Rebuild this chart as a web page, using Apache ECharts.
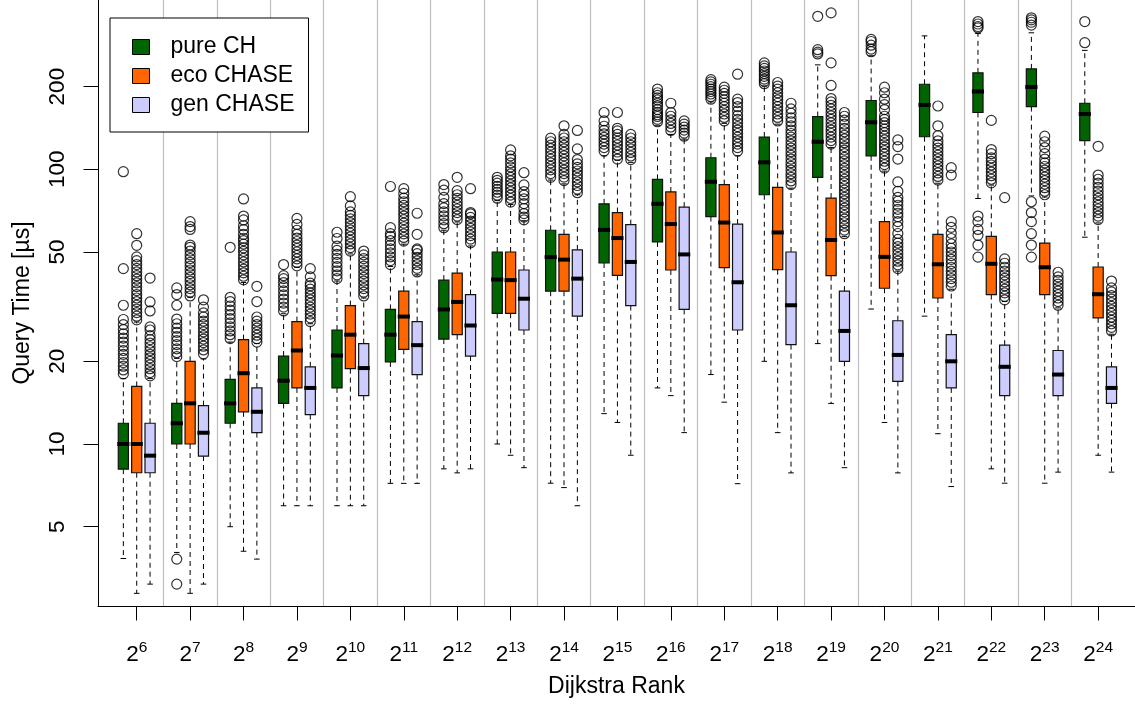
<!DOCTYPE html>
<html><head><meta charset="utf-8">
<script src="https://cdn.jsdelivr.net/npm/echarts@6/dist/echarts.min.js"></script>
<style>html,body{margin:0;padding:0;background:#fff}#chart{width:1135px;height:704px}</style>
</head><body><div id="chart"></div>
<script>
// ---- tick labels / categories ----
const rankExponents = [6,7,8,9,10,11,12,13,14,15,16,17,18,19,20,21,22,23,24];
const yTickValues = [5,10,20,50,100,200];
const seriesNames = ['pure CH','eco CHASE','gen CHASE'];

// ---- box statistics: [lower whisker, Q1, median, Q3, upper whisker] ----
const pureCH = [
 [3.83,8.1,10.0,11.9,17.3],[4.03,10.0,11.9,14.06,20.5],[5.0,11.9,14.06,17.2,23.5],
 [5.96,14.05,17.0,20.9,29.8],[5.96,16.0,21.0,26.0,39.2],[7.19,19.9,25.0,30.9,44.3],
 [8.12,24.1,30.9,39.5,60],[10.0,29.9,39.7,50.0,76.9],[7.2,36.0,47.9,60.0,91.4],
 [12.9,45.6,60.2,74.9,112],[16.0,54.4,74.9,91.9,144],[17.9,67.3,90.1,110.2,176],
 [20.0,80.8,106,131,201],[23.2,93.4,126,155.6,240],[31.0,112,148.3,178,259],
 [29.2,131.4,171.5,204,306],[78.3,161,192,224.5,312],[80,169.2,199.5,232,314],
 [56.6,127.1,158.9,174,271]
];
const ecoCHASE = [
 [2.86,7.86,10.0,16.2,27.8],[2.86,10.0,14.06,20.0,34.2],[4.07,13.1,18.1,24.0,38.7],
 [5.96,16.0,21.9,27.9,44.0],[5.96,18.8,25.0,31.9,49.2],[7.19,22.1,29.1,36.0,53.4],
 [7.85,25.0,32.9,41.9,64.3],[9.1,29.9,39.5,50.0,74.4],[6.94,36.0,46.9,58.0,88.5],
 [11.98,41.1,56.2,69.6,108],[15.0,43.0,63.2,82.7,134],[14.2,43.9,64.0,88.0,147],
 [11.0,43.1,58.9,86.0,146],[14.05,41.0,55.3,78.6,120],[11.98,36.9,48.0,64.5,98.5],
 [10.9,34.0,45.1,58.0,89],[8.12,35.0,45.3,57.0,87.6],[7.2,35.0,44.0,53.9,79.3],
 [9.1,28.8,35.1,44.1,63.8]
];
const genCHASE = [
 [3.09,7.86,9.07,11.9,17.3],[3.09,9.04,10.99,13.8,20.4],[3.81,11.0,13.1,16.0,23.2],
 [5.96,12.8,16.0,19.1,27.4],[5.96,15.0,18.9,23.2,34.0],[7.19,17.9,22.9,27.9,41.3],
 [8.12,20.9,27.0,35.0,52.6],[8.2,26.0,33.8,43.0,65],[5.96,29.2,40.0,50.9,80.8],
 [9.1,31.9,46.0,62.9,106],[11.0,30.9,49.0,72.8,128.8],[7.17,26.0,38.8,63.2,112],
 [7.85,23.0,32.0,50.0,85.4],[8.2,20.0,25.8,36.0,57],[7.85,16.9,21.1,28.1,42.6],
 [7.0,16.0,20.0,25.0,36.6],[7.2,15.0,19.1,22.9,33],[7.9,15.0,17.9,21.9,31.3],
 [7.9,14.05,16.0,19.1,25.1]
];

// ---- outliers ----
const pureCHOut = [
 [18.0,18.6,19.2,19.8,20.5,21.2,21.9,22.7,23.5,24.3,25.2,26.1,27.2,28.4,32,43.5,98],
 [3.81,3.09,20.8,21.5,22.2,23,23.8,24.6,25.5,26.4,27.4,28.5,32,35,37],
 [24.2,25,25.8,26.7,27.6,28.6,29.6,30.7,31.8,33,34.2,52],
 [30.5,31.5,32.6,33.7,34.9,36.1,37.4,38.7,40,41,45],
 [40,41.3,42.7,44.2,45.8,47.4,49,50.7,52.5,56,59],
 [45,46.5,48,49.6,51.3,53,55,57,58.3,61.3,86.6],
 [61.3,63.4,65.5,67.7,70,72.4,75,79,84,88],
 [78.5,80.5,82.5,84.5,86.7,89,91.2,93.5],
 [93.5,96.5,99.5,102.5,105.6,108.8,112,115.5,119,122.5,126,129.8],
 [116.5,120,123.5,127,130.6,134.5,138.5,143.5,150,161],
 [149,152,155.7,158,161.2,165,170,174,178.8,182,186,190,196],
 [180,184,188,192,196,200,204,208,212],
 [205,209,213,218,223,228,233,238,244],
 [263,267,272.6,360.5],
 [268,274,283,292,297],
 [],
 [47.9,53.0,57.5,60.4,64.5,67.6,327,331,338,345],
 [47.9,53.0,58.3,64.5,69.6,76.2,335,343,350,356],
 [289,345]
];
const ecoCHASEOut = [
 [28.3,29.2,30.1,31,32,33,34,35,36.2,37.4,38.6,39.8,41,42.3,43.6,45,46.5,48,52.9,58.3],
 [34.6,35.7,36.8,38,39.2,40.4,41.7,43,44.4,45.8,47.3,48.8,50.4,52,53,60.4,61.9,64.5],
 [39.6,40.8,42,43.3,44.6,46,47.4,48.8,50.3,51.8,53.4,55,56.1,58,60.3,62.3,65.4,67.6,78],
 [44.5,45.8,47.2,48.6,50,51.5,53,54.6,56.2,58,60,63,66.3],
 [50.4,51.9,53.5,55.1,56.8,58.5,60.2,62,64,66,68,70,73.6,79.5],
 [54.8,56.5,58.2,60,61.8,63.7,65.6,67.6,69.6,71.7,73.9,76.2,78.5,81.7,85],
 [65.6,67.6,69.6,71.7,73.9,76.1,78.4,80.8,83.6,93.5],
 [76,78.3,80.6,83,85.5,88,90.7,93.4,96.2,99,102,105.5,109,112,117.6],
 [91,93.7,96.5,99.4,102.4,105.5,108.6,111.9,115.2,118.7,122.2,126,130,134,144],
 [109,112.3,115.6,119,122.6,126.3,130,134,138,141,161],
 [138.5,142.6,146.9,151.3,156,161,174],
 [150,154.5,159,164,169,174,179,184,189,194,199],
 [150,154.5,159,164,169,174,179,184,190,196,201,207],
 [123.5,127.2,131,135,139,143,147.5,152,156.5,161,166,171,176,181,202,244,371],
 [101,104,107,110.3,113.6,117,120.5,124,128,132,136,140,144,148,152,156,165,172,180,190,199],
 [91.4,94.2,97,100,103,106,109.2,112.5,116,119.5,123,127,132.5,144,170],
 [89.3,92,94.8,97.7,100.7,103.7,106.8,110,114,118,150.7],
 [80.8,83.2,85.7,88.3,91,93.7,96.5,99.4,102.4,105.5,109,114,120,126,132],
 [65.6,67.6,69.6,71.7,73.9,76.1,78.4,80.8,83.3,86,89,92,95.3,121.3]
];
const genCHASEOut = [
 [17.7,18.2,18.8,19.4,20,20.6,21.2,21.9,22.6,23.3,24,24.8,26,26.7,30.5,32.9,40.2],
 [21.3,22,22.7,23.4,24.1,24.8,25.6,26.4,27.2,28,29,30,31.5,33.5],
 [23.5,24.2,24.9,25.6,26.4,27.2,28,29,33,37.5],
 [27.9,28.8,29.7,30.6,31.5,32.5,33.5,34.5,35.5,36.6,37.7,38.5,40.6,43.5],
 [34.6,35.7,36.8,38,39.2,40.4,41.7,43,44.4,45.8,47.3,48.8,50.4],
 [42.3,43.6,45,46.4,47.8,49.3,50.8,51.3,58,69.2],
 [54,55.7,57.4,59.2,61,62.9,64.8,66.8,68.8,69.6,85],
 [65.5,67,69,72,75,78,80.5,83,87.7,97.2],
 [82.2,84.7,87.3,90,92.8,95.7,98.6,101.6,104.7,108.5,118.6,138.5],
 [108.5,111.8,115.2,118.7,122.3,126,130,134],
 [132,135.5,139,142.5,146,150],
 [116.5,120,123.5,127,131,135,139,143,147.5,152,157,163,169,175,180,222],
 [88,90.7,93.5,96.4,99.4,102.5,105.7,109,112.4,115.9,119.5,123.2,127,131,135,139,144,149,154,160,166,174],
 [58.3,60.1,62,63.9,65.9,67.9,70,72.2,74.4,76.7,79.1,81.5,84,86.6,89.3,92,94.9,97.8,100.8,104,107.2,110.5,114,117.5,121,125,129,133,137,141,146,151,156,161],
 [43.5,44.9,46.3,47.7,49.2,50.7,52.3,53.9,55.6,58.4,61.9,64.5,67.2,69.2,71.5,74,76.5,79,83.2,90,109,121,128],
 [37.6,38.8,40,41.3,42.6,44,45.4,47,48.5,50,51.6,53.5,56,58.5,61.5,64.5,95.3,101.4],
 [33.5,34.5,35.5,36.6,37.7,38.9,40.1,41.3,42.6,44,45.5,47.2,78.9],
 [32,33,34,35,36,37.1,38.2,39.4,40.6,42.2],
 [25.8,26.6,27.4,28.2,29,29.9,30.8,31.7,32.7,33.7,34.7,35.8,37,39.2]
];

// ---- styling ----
const seriesColors = ['#006400','#FF6600','#CCCCFF'];
const FONT = '"Liberation Sans", Arial, Helvetica, sans-serif';
const boxStats = [pureCH, ecoCHASE, genCHASE];
const outlierSets = [pureCHOut, ecoCHASEOut, genCHASEOut];
const offsets = [-0.25, 0, 0.25];
const BOX_W = 0.19;
const groupPos = rankExponents.map((e, i) => i + 1);
const separators = groupPos.slice(0, -1).map(p => p + 0.5);

function renderBox(params, api) {
  const x = api.value(0);
  const v = [1,2,3,4,5].map(d => api.value(d));
  const p = v.map(val => api.coord([x, val]));
  const cx = p[2][0];
  const hw = api.coord([x + BOX_W / 2, v[2]])[0] - cx;
  const sw = hw * 0.55;
  const yLo = p[0][1], yQ1 = p[1][1], yMd = p[2][1], yQ3 = p[3][1], yHi = p[4][1];
  const color = api.visual('color');
  const dash = { stroke: '#000', lineWidth: 1, lineDash: [5, 4] };
  const solid = { stroke: '#000', lineWidth: 1 };
  return { type: 'group', children: [
    { type: 'line', shape: { x1: cx, y1: yQ1, x2: cx, y2: yLo }, style: dash },
    { type: 'line', shape: { x1: cx, y1: yQ3, x2: cx, y2: yHi }, style: dash },
    { type: 'line', shape: { x1: cx - sw, y1: yLo, x2: cx + sw, y2: yLo }, style: solid },
    { type: 'line', shape: { x1: cx - sw, y1: yHi, x2: cx + sw, y2: yHi }, style: solid },
    { type: 'rect', shape: { x: cx - hw, y: yQ3, width: 2 * hw, height: yQ1 - yQ3 },
      style: { fill: color, stroke: '#111', lineWidth: 1.2 } },
    { type: 'line', shape: { x1: cx - hw - 1, y1: yMd, x2: cx + hw + 1, y2: yMd },
      style: { stroke: '#000', lineWidth: 4 } }
  ]};
}

const series = [];
seriesNames.forEach((name, s) => {
  const data = boxStats[s].map((st, i) => [groupPos[i] + offsets[s]].concat(st));
  const boxSeries = {
    type: 'custom', name: name, renderItem: renderBox, data: data,
    encode: { x: 0, y: [1,2,3,4,5] },
    itemStyle: { color: seriesColors[s], borderColor: '#000', borderWidth: 1 },
    silent: true, z: 3, clip: false
  };
  if (s === 0) {
    boxSeries.markLine = {
      symbol: 'none', silent: true, animation: false, label: { show: false },
      lineStyle: { color: '#bebebe', type: 'solid', width: 1.2 },
      emphasis: { disabled: true },
      data: separators.map(xv => ({ xAxis: xv }))
    };
  }
  series.push(boxSeries);
});
seriesNames.forEach((name, s) => {
  const pts = [];
  outlierSets[s].forEach((arr, i) => arr.forEach(val => pts.push([groupPos[i] + offsets[s], val])));
  series.push({
    type: 'scatter', name: name + ' outliers', data: pts, symbol: 'circle', symbolSize: 10,
    itemStyle: { color: 'transparent', borderColor: '#000', borderWidth: 1.2 },
    silent: true, z: 4, clip: false
  });
});

const chart = echarts.init(document.getElementById('chart'), null, { renderer: 'canvas' });
chart.setOption({
  animation: false,
  backgroundColor: '#fff',
  textStyle: { fontFamily: FONT, color: '#000' },
  grid: { left: 98, right: 0, top: 0, bottom: 98, containLabel: false, outerBoundsMode: 'none' },
  legend: {
    orient: 'vertical', left: 110, top: 18,
    padding: [17, 14, 15, 22], itemGap: 5, itemWidth: 17, itemHeight: 15,
    backgroundColor: '#fff', borderColor: '#000', borderWidth: 1, borderRadius: 0,
    selectedMode: false, z: 10,
    textStyle: { fontSize: 23, fontFamily: FONT, color: '#000', lineHeight: 24, padding: [0, 0, 0, 16] },
    data: seriesNames.map((n, i) => ({ name: n, icon: 'rect',
      itemStyle: { color: seriesColors[i], borderColor: '#000', borderWidth: 1 } }))
  },
  xAxis: {
    type: 'value', min: 0.2753, max: 19.69,
    axisLine: { show: true, onZero: false, lineStyle: { color: '#000', width: 1 } },
    axisTick: { show: true, customValues: groupPos, length: 14.5, lineStyle: { color: '#000', width: 1 } },
    axisLabel: {
      customValues: groupPos, margin: 34, fontFamily: FONT, color: '#000',
      formatter: v => '{b|2}{s|' + rankExponents[Math.round(v) - 1] + '}',
      rich: {
        b: { fontSize: 22.5, lineHeight: 30, fontFamily: FONT, color: '#000' },
        s: { fontSize: 15.5, lineHeight: 15, verticalAlign: 'top', fontFamily: FONT, color: '#000' }
      }
    },
    splitLine: { show: false },
    name: 'Dijkstra Rank', nameLocation: 'middle', nameGap: 69,
    nameTextStyle: { fontSize: 23, fontFamily: FONT, color: '#000' }
  },
  yAxis: {
    type: 'log', logBase: 10, min: 2.572, max: 413.4,
    axisLine: { show: true, onZero: false, lineStyle: { color: '#000', width: 1 } },
    axisTick: { show: true, customValues: yTickValues, length: 14.5, lineStyle: { color: '#000', width: 1 } },
    axisLabel: { customValues: yTickValues, rotate: 90, margin: 29, fontSize: 22.5, fontFamily: FONT, color: '#000',
      formatter: v => String(Math.round(v)) },
    splitLine: { show: false }, minorTick: { show: false },
    name: 'Query Time [µs]', nameLocation: 'middle', nameGap: 64,
    nameTextStyle: { fontSize: 23, fontFamily: FONT, color: '#000' }
  },
  series: series
});
</script>
</body></html>
